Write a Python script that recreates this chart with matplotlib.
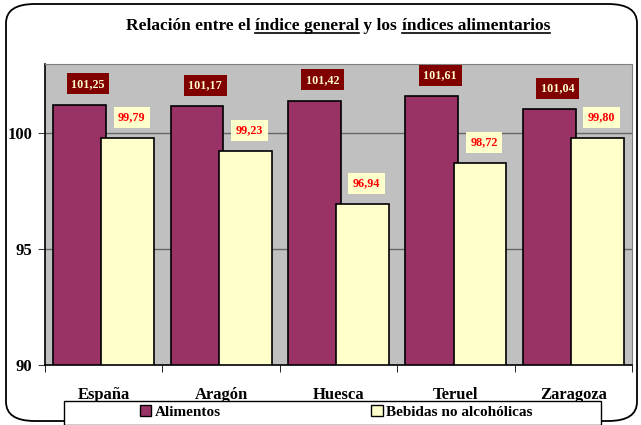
import matplotlib.pyplot as plt
import numpy as np
from matplotlib.patches import FancyBboxPatch, Rectangle
from matplotlib.lines import Line2D

categories = ["España", "Aragón", "Huesca", "Teruel", "Zaragoza"]
alimentos = [101.25, 101.17, 101.42, 101.61, 101.04]
bebidas = [99.79, 99.23, 96.94, 98.72, 99.80]
series_names = ["Alimentos", "Bebidas no alcohólicas"]
yticks = [90, 95, 100]

plt.rcParams['font.family'] = ['Liberation Serif', 'DejaVu Serif']
plt.rcParams['font.weight'] = 'bold'

W, H = 641, 425
fig = plt.figure(figsize=(W / 100, H / 100), dpi=100)

# rounded frame around the whole chart
frame = FancyBboxPatch((6 / W, 4 / H), (W - 10) / W, (H - 8) / H,
                       boxstyle="round,pad=0,rounding_size=0.045",
                       transform=fig.transFigure, facecolor='none',
                       edgecolor='black', linewidth=1.3, zorder=-1)
fig.patches.append(frame)

ax = fig.add_axes([45 / W, 60 / H, (632 - 45) / W, (365 - 64) / H])
ax.set_facecolor('#C0C0C0')

x = np.arange(len(categories))
w = 0.45
off = 0.205
ax.bar(x - off, alimentos, w, color='#993366', edgecolor='black', linewidth=1.2, zorder=2)
ax.bar(x + off, bebidas, w, color='#FFFFCC', edgecolor='black', linewidth=1.2, zorder=3)

# value labels
for xi, v in zip(x, alimentos):
    ax.annotate(f"{v:.2f}".replace('.', ','), (xi - off, v), xytext=(6, 15),
                textcoords='offset points', ha='center', va='center',
                fontsize=8.7, color='#FFFFCC', fontweight='bold', zorder=5,
                bbox=dict(boxstyle='square,pad=0.38', facecolor='#800000', edgecolor='none'))
for xi, v in zip(x, bebidas):
    ax.annotate(f"{v:.2f}".replace('.', ','), (xi + off, v), xytext=(3, 15),
                textcoords='offset points', ha='center', va='center',
                fontsize=8.7, color='red', fontweight='bold', zorder=5,
                bbox=dict(boxstyle='square,pad=0.38', facecolor='#FFFFCC', edgecolor='none'))

ax.set_ylim(90, 103)
ax.set_xlim(-0.5, len(categories) - 0.5)
ax.set_yticks(yticks)
ax.set_yticklabels([str(t) for t in yticks], fontsize=12, fontweight='bold')
ax.set_xticks(x)
ax.set_xticklabels(categories, fontsize=12, fontweight='bold')
ax.set_xticks(np.arange(-0.5, len(categories)), minor=True)
ax.tick_params(axis='x', which='major', length=0, pad=16)
ax.tick_params(axis='x', which='minor', length=5, direction='out', color='black')
ax.tick_params(axis='y', length=5, direction='out', color='#404040', pad=4)
for yv in yticks[1:]:
    ax.axhline(yv, color='#666666', linewidth=1, zorder=1)

for s in ['top', 'right']:
    ax.spines[s].set_color('#808080')
for s in ['left', 'bottom']:
    ax.spines[s].set_color('black')
    ax.spines[s].set_linewidth(1.2)
ax.spines['bottom'].set_zorder(4)

# legend box
fig.patches.append(Rectangle((64 / W, 0), (601 - 64) / W, (H - 401) / H,
                             transform=fig.transFigure, facecolor='white',
                             edgecolor='black', linewidth=1, zorder=1))
handles = [Rectangle((0, 0), 1, 1, facecolor='#993366', edgecolor='black'),
           Rectangle((0, 0), 1, 1, facecolor='#FFFFCC', edgecolor='black')]
fig.legend(handles, series_names, loc='center', bbox_to_anchor=(336 / W, 1 - 412 / H),
           ncol=2, frameon=False, prop={'size': 11, 'weight': 'bold'},
           handlelength=0.75, handleheight=0.75, handletextpad=0.2, columnspacing=9.85)

# title with underlined parts
pieces = [("Relación entre el ", False), ("índice general", True),
          (" y los ", False), ("índices alimentarios", True)]
renderer = fig.canvas.get_renderer()
title_y = 1 - 30 / H
texts = []
widths = []
for s, u in pieces:
    t = fig.text(0, title_y, s, fontsize=12.5, fontweight='bold', va='baseline', ha='left')
    texts.append(t)
    widths.append(t.get_window_extent(renderer).width)
xpos = 338 - sum(widths) / 2
for (s, u), t, wd in zip(pieces, texts, widths):
    t.set_x(xpos / W)
    if u:
        yl = title_y - 3 / H
        fig.lines.append(Line2D([xpos / W, (xpos + wd) / W], [yl, yl],
                                transform=fig.transFigure, color='black', linewidth=1.2))
    xpos += wd

fig.savefig("out.png", dpi=100)
